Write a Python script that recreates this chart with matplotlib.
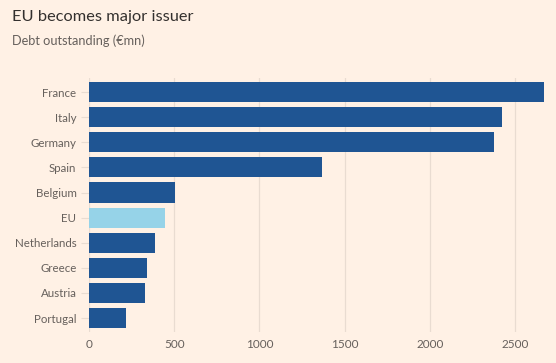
import matplotlib
matplotlib.use("Agg")
import matplotlib.pyplot as plt

BG = "#FFF1E5"
DARK = "#1F5593"
LIGHT = "#96D3E8"
TEXT = "#66605C"
GRID = "#E9DCD1"

countries = ["France", "Italy", "Germany", "Spain", "Belgium", "EU",
             "Netherlands", "Greece", "Austria", "Portugal"]
debt = [2670, 2425, 2375, 1367, 505, 447, 388, 342, 330, 217]
xticks = [0, 500, 1000, 1500, 2000, 2500]

plt.rcParams["font.family"] = ["Lato", "DejaVu Sans"]

fig = plt.figure(figsize=(5.56, 3.63), dpi=100, facecolor=BG)
ax = fig.add_axes([0.160, 0.085, 0.840, 0.700], facecolor=BG)

colors = [LIGHT if c == "EU" else DARK for c in countries]
ax.barh(range(len(countries)), debt, height=0.8, color=colors, zorder=2)

ax.set_ylim(len(countries) - 0.44, -0.56)
ax.set_xlim(0, 2740)
ax.set_yticks(range(len(countries)))
ax.set_yticklabels(countries)
ax.set_xticks(xticks)
ax.set_xticklabels([str(t) for t in xticks])

ax.grid(axis="x", color=GRID, linewidth=0.9, zorder=0)
for s in ax.spines.values():
    s.set_visible(False)
ax.tick_params(axis="y", length=6, color=GRID, labelcolor=TEXT, labelsize=8.3, pad=3)
ax.tick_params(axis="x", length=0, labelcolor=TEXT, labelsize=8.5, pad=5)

fig.text(0.022, 0.952, "EU becomes major issuer", fontsize=11.8, color="#33302E", va="center")
fig.text(0.022, 0.887, "Debt outstanding (€mn)", fontsize=9.2, color=TEXT, va="center")

fig.savefig("out.png", dpi=100, facecolor=BG)
